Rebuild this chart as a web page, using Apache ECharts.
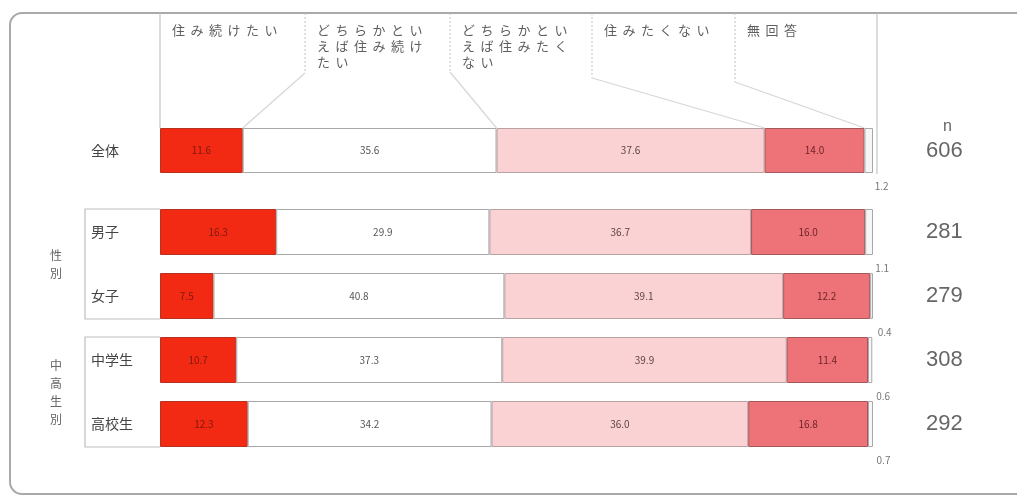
<!DOCTYPE html>
<html>
<head>
<meta charset="utf-8">
<script src="https://cdn.jsdelivr.net/npm/echarts@6/dist/echarts.min.js"></script>
<style>
  html, body { margin: 0; padding: 0; background: #ffffff; }
  #chart { width: 1017px; height: 498px; }
</style>
</head>
<body>
<div id="chart"></div>
<script>
// Survey: wish to keep living here (percent), total and by group
const categoriesAll = ['全体'];
const categoriesGroup = ['男子', '女子', '中学生', '高校生'];
const groupLabels = ['性別', '中高生別'];
const seriesNames = ['住み続けたい', 'どちらかといえば住み続けたい', 'どちらかといえば住みたくない', '住みたくない', '無回答'];
const headerLines = [
  ['住み続けたい'],
  ['どちらかとい', 'えば住み続け', 'たい'],
  ['どちらかとい', 'えば住みたく', 'ない'],
  ['住みたくない'],
  ['無回答']
];
const nAll = ['606'];
const nGroup = ['281', '279', '308', '292'];

// one array per answer, total row
const keepAll = [11.6];
const ratherKeepAll = [35.6];
const ratherLeaveAll = [37.6];
const leaveAll = [14.0];
const noAnswerAll = [1.2];

// one array per answer, rows: 男子, 女子, 中学生, 高校生
const keepGroup = [16.3, 7.5, 10.7, 12.3];
const ratherKeepGroup = [29.9, 40.8, 37.3, 34.2];
const ratherLeaveGroup = [36.7, 39.1, 39.9, 36.0];
const leaveGroup = [16.0, 12.2, 11.4, 16.8];
const noAnswerGroup = [1.1, 0.4, 0.6, 0.7];

const valuesAll = [keepAll, ratherKeepAll, ratherLeaveAll, leaveAll, noAnswerAll];
const valuesGroup = [keepGroup, ratherKeepGroup, ratherLeaveGroup, leaveGroup, noAnswerGroup];

const fills = ['#f32a13', '#ffffff', '#fbd2d3', '#ee7378', '#f6f6f6'];
const borders = ['#b8321f', '#a8a8a8', '#b9a2a4', '#a4585c', '#a8a8a8'];
const labelColors = ['#7c1a0e', '#555555', '#5a4445', '#6e2428', '#666666'];

const chart = echarts.init(document.getElementById('chart'), null, { renderer: 'canvas' });
const FONT = '"Noto Sans CJK JP", "Noto Sans", sans-serif';
const NUMFONT = '"Liberation Sans", Arial, sans-serif';

function segLabel(s) {
  if (s === 4) {
    return {
      show: true, position: 'bottom', offset: [13, 3],
      fontSize: 10, color: '#777', fontFamily: FONT,
      formatter: p => p.value.toFixed(1)
    };
  }
  return {
    show: true, position: 'inside',
    fontSize: 10, color: labelColors[s], fontFamily: FONT,
    formatter: p => p.value.toFixed(1)
  };
}

const series = [];
for (let s = 0; s < seriesNames.length; s++) {
  const common = {
    type: 'bar', name: seriesNames[s],
    barWidth: 46, silent: true,
    itemStyle: { color: fills[s], borderColor: borders[s], borderWidth: 1 },
    label: segLabel(s)
  };
  series.push(Object.assign({}, common, { stack: 'all', xAxisIndex: 0, yAxisIndex: 0, data: valuesAll[s], barWidth: 45 }));
  series.push(Object.assign({}, common, { stack: 'group', xAxisIndex: 1, yAxisIndex: 2, data: valuesGroup[s] }));
}

const catLabel = { align: 'left', margin: 69, fontSize: 14, color: '#444', fontFamily: FONT };
const nLabel = { align: 'left', margin: 53, fontSize: 22, color: '#666', fontFamily: NUMFONT };
const hiddenAxisParts = { axisLine: { show: false }, axisTick: { show: false }, splitLine: { show: false } };

chart.setOption({
  animation: false,
  backgroundColor: '#ffffff',
  grid: [
    { left: 160, right: 144, top: 128, height: 45 },
    { left: 160, right: 144, top: 200, height: 256 }
  ],
  xAxis: [
    Object.assign({ type: 'value', gridIndex: 0, min: 0, max: 100, axisLabel: { show: false } }, hiddenAxisParts),
    Object.assign({ type: 'value', gridIndex: 1, min: 0, max: 100, axisLabel: { show: false } }, hiddenAxisParts)
  ],
  yAxis: [
    Object.assign({ type: 'category', gridIndex: 0, position: 'left', inverse: true, data: categoriesAll, axisLabel: catLabel }, hiddenAxisParts),
    Object.assign({
      type: 'category', gridIndex: 0, position: 'right', inverse: true, data: nAll, axisLabel: nLabel,
      name: 'n', nameLocation: 'start', nameGap: -7,
      nameTextStyle: { fontSize: 16, color: '#666', fontFamily: NUMFONT, align: 'left', padding: [0, 0, 0, 70] }
    }, hiddenAxisParts),
    Object.assign({ type: 'category', gridIndex: 1, position: 'left', inverse: true, data: categoriesGroup, axisLabel: catLabel }, hiddenAxisParts),
    Object.assign({ type: 'category', gridIndex: 1, position: 'right', inverse: true, data: nGroup, axisLabel: nLabel }, hiddenAxisParts)
  ],
  series: series
});

// Decorations: frame, header columns with leader lines, group brackets
const graphics = [];
const LINE = '#c4c4c4';

graphics.push({
  type: 'rect', z: 0, silent: true,
  shape: { x: 10, y: 13, width: 1040, height: 481, r: 12 },
  style: { fill: 'none', stroke: '#a9a9a9', lineWidth: 2 }
});

const barTop = chart.convertToPixel({ gridIndex: 0 }, [0, categoriesAll[0]])[1] - 22.5;
const headerLeft = [160, 305, 450, 592, 735];
const headerRight = 877;
const dividerBottom = [0, 73, 72, 78, 82];
const charPitch = 18.5;

// header box outer edges
graphics.push({ type: 'line', silent: true, shape: { x1: headerLeft[0], y1: 13, x2: headerLeft[0], y2: barTop }, style: { stroke: LINE, lineWidth: 1.2 } });
graphics.push({ type: 'line', silent: true, shape: { x1: headerRight, y1: 13, x2: headerRight, y2: barTop + 46 }, style: { stroke: LINE, lineWidth: 1.2 } });

let cum = 0;
for (let s = 0; s < seriesNames.length; s++) {
  // header text, spaced out character by character
  headerLines[s].forEach((line, li) => {
    Array.from(line).forEach((ch, ci) => {
      graphics.push({
        type: 'text', silent: true,
        style: {
          x: headerLeft[s] + 12 + ci * charPitch, y: 24 + li * 16,
          text: ch, font: '13px ' + FONT,
          fill: '#5e5e5e', align: 'left', verticalAlign: 'top'
        }
      });
    });
  });
  if (s > 0) {
    const bx = chart.convertToPixel({ gridIndex: 0 }, [cum, categoriesAll[0]])[0];
    graphics.push({ type: 'line', silent: true, shape: { x1: headerLeft[s], y1: 13, x2: headerLeft[s], y2: dividerBottom[s] }, style: { stroke: LINE, lineWidth: 1, lineDash: [2, 2] } });
    graphics.push({ type: 'line', silent: true, shape: { x1: headerLeft[s], y1: dividerBottom[s], x2: bx, y2: barTop }, style: { stroke: '#d6d6d6', lineWidth: 1.2 } });
  }
  cum += valuesAll[s][0];
}

// group brackets and vertical group names
const groups = [[0, 1], [2, 3]];
groups.forEach((g, i) => {
  const yA = chart.convertToPixel({ gridIndex: 1 }, [0, categoriesGroup[g[0]]])[1];
  const yB = chart.convertToPixel({ gridIndex: 1 }, [0, categoriesGroup[g[1]]])[1];
  const top = yA - 23, bottom = yB + 23;
  graphics.push({
    type: 'polyline', silent: true,
    shape: { points: [[160, top], [85, top], [85, bottom], [160, bottom]] },
    style: { stroke: '#bdbdbd', lineWidth: 1.2, fill: 'none' }
  });
  graphics.push({
    type: 'text', silent: true,
    style: {
      x: 56, y: (yA + yB) / 2,
      text: groupLabels[i].split('').join('\n'),
      font: '12px ' + FONT, lineHeight: 18,
      fill: '#666', align: 'center', verticalAlign: 'middle'
    }
  });
});

chart.setOption({ graphic: graphics });
</script>
</body>
</html>
